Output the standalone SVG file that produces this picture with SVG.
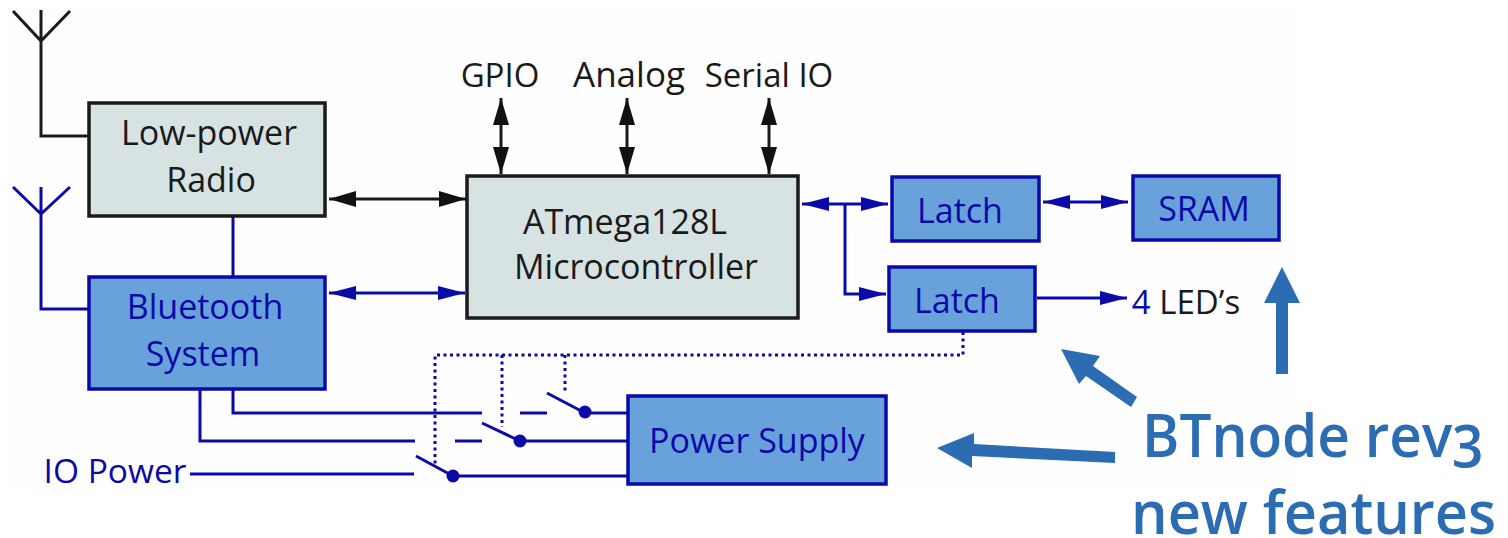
<svg xmlns="http://www.w3.org/2000/svg" width="1508" height="538" viewBox="0 0 1508 538">
<defs>
<marker id="ak" markerUnits="userSpaceOnUse" markerWidth="28" markerHeight="18" refX="27" refY="9" orient="auto-start-reverse"><path d="M0 1L27 9L0 17Z" fill="#111"/></marker>
<marker id="ab" markerUnits="userSpaceOnUse" markerWidth="28" markerHeight="16" refX="27" refY="8" orient="auto-start-reverse"><path d="M0 1L27 8L0 15Z" fill="#0a0aa8"/></marker>
</defs>
<style>
.t{font-family:"Open Sans","Noto Sans",sans-serif;font-size:34px;text-anchor:middle}
.k{fill:#1a1a1a}.u{fill:#0a0aa8}
.gray{fill:#d7e3e3;stroke:#1a1a1a;stroke-width:3.5}
.blue{fill:#69a2da;stroke:#0a0aa8;stroke-width:3.5}
.lk{fill:none;stroke:#1a1a1a;stroke-width:3}
.lb{fill:none;stroke:#0a0aa8;stroke-width:3}
.dot{fill:none;stroke:#0a0aa8;stroke-width:3;stroke-dasharray:3 3.5}
.big{fill:#2b6cb3}
.bt{font-family:"Open Sans","Noto Sans",sans-serif;font-size:59px;font-weight:600;fill:#2b6cb3;font-variant-numeric:oldstyle-nums}
</style>
<rect x="10" y="10" width="1290" height="480" fill="#fefefe"/>
<g id="connectors">
<path class="lk" d="M13 11L41 41L70 11M41 10V136H89"/>
<path class="lb" d="M13 187L41 214L70 187M41 187V309H89"/>
<path class="lb" d="M233 217V277"/>
<path class="lk" d="M329 199H466" marker-start="url(#ak)" marker-end="url(#ak)"/>
<path class="lb" d="M329 293H465" marker-start="url(#ab)" marker-end="url(#ab)"/>
<path class="lk" d="M501 98V174" marker-start="url(#ak)" marker-end="url(#ak)"/>
<path class="lk" d="M627 98V174" marker-start="url(#ak)" marker-end="url(#ak)"/>
<path class="lk" d="M769 98V174" marker-start="url(#ak)" marker-end="url(#ak)"/>
<path class="lb" d="M802 204H888" marker-start="url(#ab)" marker-end="url(#ab)"/>
<path class="lb" d="M845 204V294H886" marker-end="url(#ab)"/>
<path class="lb" d="M1043 202H1128" marker-start="url(#ab)" marker-end="url(#ab)"/>
<path class="lb" d="M1037 298H1127" marker-end="url(#ab)"/>
<path class="dot" d="M963 332V355H435V465M502 355V427M565 355V394"/>
<path class="lb" d="M233 390V413H482M520 413H547M547 393L585 413M585 413H628"/>
<path class="lb" d="M200 390V441H415M455 441H482M482 423L520 441M520 441H628"/>
<path class="lb" d="M190 474H414M416 456L453 476M453 476H628"/>
<circle cx="585" cy="412" r="6.5" fill="#0a0aa8"/>
<circle cx="520" cy="441" r="6.5" fill="#0a0aa8"/>
<circle cx="453" cy="476" r="6.5" fill="#0a0aa8"/>
<path class="big" d="M1276 374L1276 303H1264L1282 267L1300 303H1288L1288 374Z"/>
<path class="big" d="M1061 349L1100 356L1093 366L1137 397L1131 407L1086 376L1079 384Z"/>
<path class="big" d="M937 448L974 433L974 444L1115 452L1115 463L972 456L972 468Z"/>
</g>
<g id="radio"><rect class="gray" x="89" y="103" width="236" height="113"/><text class="t k" x="209" y="145">Low-power</text><text class="t k" x="211" y="192">Radio</text></g>
<g id="bluetooth"><rect class="blue" x="89" y="277" width="236" height="112"/><text class="t u" x="205" y="319">Bluetooth</text><text class="t u" x="203" y="366">System</text></g>
<g id="mcu"><rect class="gray" x="467" y="176" width="331" height="142"/><text class="t k" x="625" y="234">ATmega128L</text><text class="t k" x="636" y="279">Microcontroller</text></g>
<g id="latch1"><rect class="blue" x="892" y="177" width="147" height="64"/><text class="t u" x="960" y="223">Latch</text></g>
<g id="sram"><rect class="blue" x="1133" y="176" width="146" height="64"/><text class="t u" x="1204" y="221">SRAM</text></g>
<g id="latch2"><rect class="blue" x="889" y="267" width="146" height="64"/><text class="t u" x="957" y="313">Latch</text></g>
<g id="power"><rect class="blue" x="628" y="396" width="258" height="88"/><text class="t u" x="757" y="453">Power Supply</text></g>
<g id="labels">
<text class="t k" x="500" y="87" style="font-size:33px">GPIO</text>
<text class="t k" x="629" y="87" style="font-size:35px">Analog</text>
<text class="t k" x="769" y="87" style="font-size:33px">Serial IO</text>
<text class="t" x="1186" y="314" style="font-size:33px"><tspan class="u">4</tspan><tspan class="k"> LED’s</tspan></text>
<text class="t u" x="115" y="483" style="font-size:33.5px">IO Power</text>
<text class="bt" x="1142" y="457" textLength="342" lengthAdjust="spacingAndGlyphs">BTnode rev3</text>
<text class="bt" x="1131" y="534" textLength="365" lengthAdjust="spacingAndGlyphs">new features</text>
</g>
</svg>
